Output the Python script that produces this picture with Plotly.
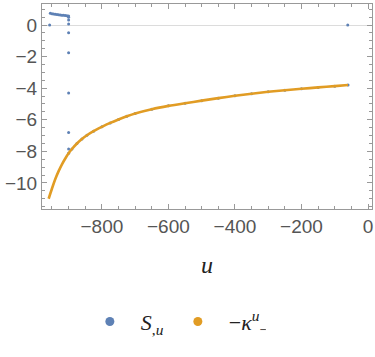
import plotly.graph_objects as go

# -kappa curve (orange)
kap_u = [-960, -950, -940, -930, -920, -910, -900, -890, -875, -860, -845, -825,
         -800, -775, -750, -725, -700, -650, -600, -550, -500, -450, -400, -350,
         -300, -250, -200, -150, -100, -60]
kap_y = [-11.0, -10.35, -9.75, -9.25, -8.82, -8.45, -8.12, -7.85, -7.5, -7.22, -6.98, -6.72,
         -6.45, -6.2, -5.98, -5.78, -5.6, -5.33, -5.12, -4.95, -4.79, -4.63, -4.48, -4.35,
         -4.23, -4.13, -4.04, -3.95, -3.87, -3.8]

# S_{,u} points (blue): plateau, drop at u~-900, stray zeros
s_top_u = [-955, -950, -945, -940, -935, -930, -925, -920, -915, -910, -905, -900]
s_top_y = [0.74, 0.72, 0.70, 0.68, 0.66, 0.65, 0.63, 0.62, 0.61, 0.60, 0.59, 0.57]
s_drop_u = [-900, -900, -900, -900, -900, -900, -900, -900]
s_drop_y = [0.49, 0.32, 0.06, -0.49, -1.75, -4.3, -6.8, -7.85]
s_zero_u = [-957, -61]
s_zero_y = [0.0, 0.0]

blue = "#5E81B5"
orange = "#E19C24"

# blue follows the orange curve past the drop
s_curve_u = [u for u in kap_u if u >= -900]
s_curve_y = [y for u, y in zip(kap_u, kap_y) if u >= -900]

fig = go.Figure()
fig.add_trace(go.Scatter(x=s_top_u + s_drop_u + s_zero_u + s_curve_u,
                         y=s_top_y + s_drop_y + s_zero_y + s_curve_y,
                         mode="markers", marker=dict(color=blue, size=3),
                         showlegend=False))
fig.add_trace(go.Scatter(x=kap_u, y=kap_y, mode="lines",
                         line=dict(color=orange, width=2.6, shape="spline", smoothing=0.6),
                         showlegend=False))
# legend entries
fig.add_trace(go.Scatter(x=[None], y=[None], mode="markers",
                         marker=dict(color=blue, size=9),
                         name="&nbsp;&nbsp;<i>S</i><sub>,<i>u</i></sub>"))
fig.add_trace(go.Scatter(x=[None], y=[None], mode="markers",
                         marker=dict(color=orange, size=9),
                         name="&nbsp;&nbsp;−<i>κ</i><sup><i>u</i></sup><sub>−</sub>"))

axis_common = dict(showline=True, linecolor="#999999", linewidth=1, mirror="allticks",
                   ticks="inside", ticklen=5, tickcolor="#999999", showgrid=False,
                   ticklabeloverflow="allow", automargin=False,
                   tickfont=dict(family="Liberation Sans", size=19, color="#555555"))

fig.update_xaxes(range=[-980, 12], tickvals=[-800, -600, -400, -200, 0],
                 ticktext=["−800", "−600", "−400", "−200", "0"],
                 minor=dict(dtick=50, tick0=0, ticks="inside", ticklen=3, tickcolor="#999999"),
                 zeroline=False,
                 title=dict(text="<i>u</i>", font=dict(family="Liberation Serif", size=24, color="#222222"),
                            standoff=20),
                 **axis_common)
fig.update_yaxes(range=[-11.65, 1.33], tickvals=[0, -2, -4, -6, -8, -10],
                 ticktext=["0", "−2", "−4", "−6", "−8", "−10"],
                 minor=dict(dtick=0.5, tick0=0, ticks="inside", ticklen=3, tickcolor="#999999"),
                 zeroline=True, zerolinecolor="#dcdcdc", zerolinewidth=1,
                 **axis_common)

fig.update_layout(
    width=375, height=357,
    margin=dict(l=42, r=3, t=4, b=148),
    plot_bgcolor="white", paper_bgcolor="white",
    legend=dict(orientation="h", x=0.145, xanchor="left", y=-0.55, yanchor="middle",
                font=dict(family="Liberation Serif", size=22, color="#222222"),
                entrywidth=43),
)

# drop the page's default body margin so the figure sits at the window origin
fig.write_html("out.html", config={"displayModeBar": False},
               post_script="document.body.style.margin = '0';")
